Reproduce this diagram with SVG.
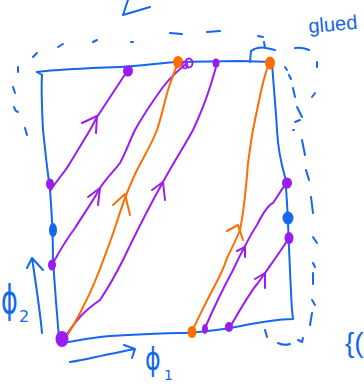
<svg xmlns="http://www.w3.org/2000/svg" width="364" height="386" viewBox="0 0 364 386">
<style>
.b{fill:none;stroke:#1467ee;stroke-width:2;stroke-linecap:round;stroke-linejoin:round}
.p{fill:none;stroke:#9b1cf2;stroke-width:2;stroke-linecap:round;stroke-linejoin:round}
.o{fill:none;stroke:#ff6d00;stroke-width:2;stroke-linecap:round;stroke-linejoin:round}
.pd{fill:#9b1cf2}
.od{fill:#ff6d00}
.bd{fill:#1467ee}
.t{fill:#1467ee;font-family:"DejaVu Sans",sans-serif}
.l{fill:#1467ee;font-family:"Liberation Sans",sans-serif}
</style>
<rect width="364" height="386" fill="#fff"/>
<g id="frame">
<path class="b" d="M37,72 C60,69 90,68 120,67 C140,66 160,63 177,62 L240,61 L272,62 C273,80 276,110 277,130 C278,150 283,170 285,177 C287,195 288,220 289,248 C290,270 291,295 292,310 L293,319 C280,319 260,322 230,328 C210,331 190,333 180,333 C140,334 110,336 100,337 C85,339 75,341 62,343"/>
<path class="b" d="M42,75 C41,90 42,110 43,130 C45,150 48,175 50,190 C52,215 53,240 53,260 C55,290 57,315 59,338"/>
<path class="b" d="M37,72 L42,75"/>
</g>
<g id="dashes">
<path class="b" d="M13,87 L15,93 M14,107 Q15,111 18,112 M18,67 L18,72 M25,128 L27,135 M33,57 L37,53 M58,47 L63,44 M93,42 L97,40 M131,42 L133,42 M170,33 L182,34 M207,32 L220,31"/>
<path class="b" d="M295,48 Q302,47 309,50 M285,67 L287,70 M289,75 L291,79 M293,88 L295,97 M297,107 L302,117 M317,62 L317,67 M312,97 L315,93 M295,122 L300,120 M293,130 L294,130 M302,140 L305,155 M306,170 L309,180 M311,197 L313,213 M313,237 L317,243 M313,263 L315,267 M313,273 L313,284 M312,300 L315,305 M312,313 L310,325 M298,340 L302,342 L303,338 M278,343 Q284,346 290,344 M265,330 L267,337"/>
<path class="b" d="M128,0 L123,15 L150,7"/>
<path class="b" d="M250,62 L251,51 Q258,46 266,48 L275,50 M258,36 L263,37 M264,42 L265,48"/>
</g>
<g id="connectors">
<path class="p" d="M50,191 C60,176 65,172 70,163 C78,150 84,140 90,130 L97,117 C105,105 112,94 120,82 L128,70"/>
<path class="p" d="M82,123 L97,116 L96,133"/>
<path class="p" d="M52,265 C60,250 66,240 75,228 C85,212 95,198 100,188 C108,176 115,170 120,163 C126,152 130,140 135,130 C145,112 155,98 163,87 C170,78 176,72 185,65"/>
<path class="p" d="M88,197 L100,188 L98,205"/>
<path class="p" d="M63,340 C72,326 80,316 87,310 C94,304 97,302 100,300 C110,285 118,270 123,260 C135,235 150,205 163,182 C175,160 185,145 193,130 C200,115 206,100 210,87 C213,78 215,70 217,64"/>
<path class="p" d="M152,190 L163,182 L165,200"/>
<path class="p" d="M205,328 C215,305 225,285 232,272 C237,262 240,255 243,250 C248,240 252,232 257,225 C262,215 268,205 273,203 C278,196 282,188 287,183"/>
<path class="p" d="M237,251 L245,247 L245,257"/>
<path class="p" d="M230,327 C240,310 250,292 258,283 L265,273 C272,263 280,252 289,238"/>
<path class="p" d="M255,279 L265,273 L265,288"/>
<path class="o" d="M64,340 C72,328 78,318 83,307 C92,290 100,270 107,250 C115,230 120,210 127,193 C131,183 134,176 137,170 C145,155 152,143 157,130 C162,115 165,100 168,90 C172,78 175,70 178,63"/>
<path class="o" d="M113,205 L125,194 L130,215" stroke-width="3.2"/>
<path class="o" d="M193,329 C200,315 207,300 213,289 C219,278 224,268 227,258 C232,248 236,240 240,230 C244,210 246,190 248,163 C250,150 251,140 253,130 C257,110 260,95 263,83 C265,76 266,71 268,66"/>
<path class="o" d="M227,231 L238,225 L243,240" stroke-width="2.6"/>
</g>
<g id="dots">
<ellipse class="pd" cx="128" cy="71" rx="5" ry="5.5"/>
<ellipse class="od" cx="178" cy="62" rx="5" ry="6"/>
<ellipse cx="189" cy="63" rx="3.5" ry="4.5" fill="none" stroke="#9b1cf2" stroke-width="2"/>
<ellipse cx="185" cy="65" rx="2.5" ry="3.5" fill="none" stroke="#9b1cf2" stroke-width="1.6"/>
<ellipse class="pd" cx="216" cy="63" rx="3.5" ry="4.5"/>
<ellipse class="od" cx="270" cy="63" rx="5" ry="6.5"/>
<ellipse class="pd" cx="50" cy="184" rx="4" ry="5.5"/>
<ellipse class="bd" cx="53" cy="230" rx="4" ry="7"/>
<ellipse class="pd" cx="52" cy="265" rx="4" ry="5.5"/>
<ellipse class="pd" cx="62" cy="339" rx="6.5" ry="8"/>
<ellipse class="od" cx="192" cy="332" rx="4.5" ry="6"/>
<ellipse class="pd" cx="205" cy="329" rx="3" ry="5"/>
<ellipse class="pd" cx="229" cy="327" rx="4" ry="5"/>
<ellipse class="pd" cx="287" cy="183" rx="5" ry="5.5"/>
<ellipse class="bd" cx="288" cy="218" rx="5.5" ry="6.5"/>
<ellipse class="pd" cx="289" cy="238" rx="4.5" ry="6"/>
</g>
<g id="labels">
<text class="l" x="309" y="33" font-size="20" transform="rotate(-5 309 33)">glued</text>
<path class="b" d="M42,333 C40,310 36,285 32,258 M27,268 L32,258 L43,270"/>
<text class="t" font-size="30" transform="translate(1,313) scale(0.85,1.3)">ϕ</text>
<text class="t" x="19" y="322" font-size="16">2</text>
<path class="b" d="M70,362 C85,360 95,357 110,354 C120,352 128,350 135,349 M124,345 L135,349 L132,358"/>
<text class="t" font-size="28" transform="translate(145,370) scale(0.85,1.15)">ϕ</text>
<text class="t" x="164" y="380" font-size="14">1</text>
<text class="l" x="345" y="352" font-size="28">{(</text>
</g>
</svg>
